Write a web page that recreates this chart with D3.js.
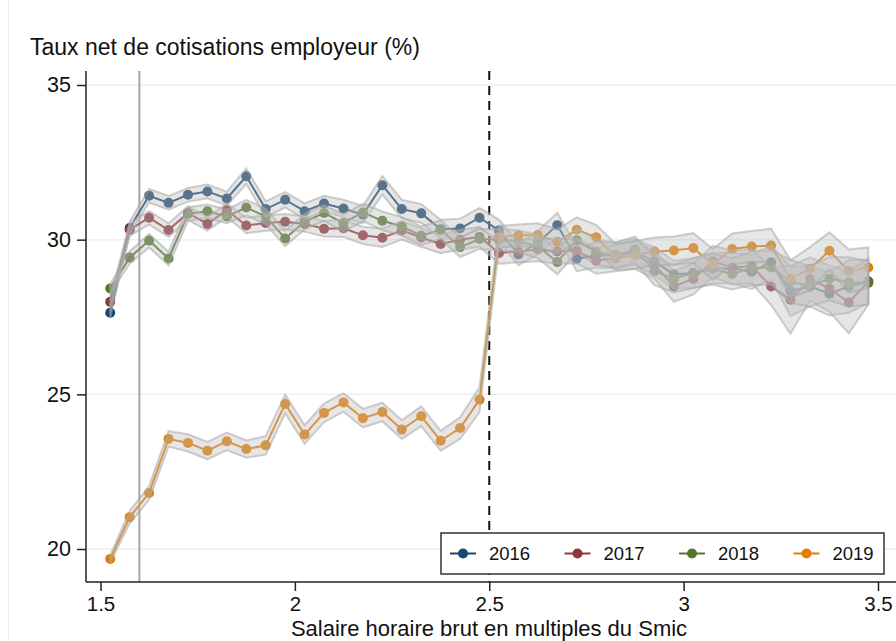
<!DOCTYPE html>
<html><head><meta charset="utf-8">
<script src="https://cdn.jsdelivr.net/npm/d3@7"></script>
<style>
html,body{margin:0;padding:0;background:#fff;}
svg{display:block;font-family:"Liberation Sans",Arial,sans-serif;}
</style></head>
<body>
<svg id="chart" width="896" height="641"></svg>
<script>
const xValues = [1.525,1.575,1.625,1.675,1.725,1.775,1.825,1.875,1.925,1.975,
  2.025,2.075,2.125,2.175,2.225,2.275,2.325,2.375,2.425,2.475,
  2.525,2.575,2.625,2.675,2.725,2.775,2.825,2.875,2.925,2.975,
  3.025,3.075,3.125,3.175,3.225,3.275,3.325,3.375,3.425,3.475];
const years = ["2016","2017","2018","2019"];
const colors = ["#1a476f","#90353b","#55752f","#e37e00"];
const v2016 = [27.64,30.38,31.42,31.19,31.45,31.56,31.33,32.05,30.99,31.29,
  30.92,31.17,31.01,30.81,31.76,30.99,30.85,30.34,30.36,30.71,
  30.30,29.52,29.90,30.47,29.38,29.50,29.50,29.60,29.30,28.87,
  28.92,29.08,29.08,28.96,29.27,28.33,28.49,28.25,28.49,28.65];
const v2017 = [27.99,30.32,30.71,30.31,30.86,30.51,30.95,30.46,30.54,30.58,
  30.51,30.35,30.37,30.14,30.06,30.30,30.07,29.86,30.00,30.09,
  29.57,29.62,29.68,29.62,29.64,29.32,29.40,29.50,29.19,28.49,
  28.73,29.30,29.10,29.14,28.49,28.06,28.73,28.42,27.97,28.65];
const v2018 = [28.42,29.42,29.97,29.39,30.83,30.92,30.75,31.04,30.75,30.04,
  30.58,30.86,30.54,30.88,30.61,30.43,30.13,30.32,29.76,30.02,
  30.00,29.95,29.78,29.28,29.98,29.60,29.50,29.68,28.98,28.74,
  28.92,29.05,28.89,29.08,29.10,28.65,28.49,28.74,28.63,28.60];
const v2019 = [19.68,21.03,21.81,23.56,23.43,23.18,23.48,23.23,23.35,24.69,
  23.70,24.40,24.74,24.23,24.43,23.86,24.29,23.50,23.91,24.83,
  30.09,30.14,30.15,29.93,30.32,30.08,29.44,29.51,29.62,29.65,
  29.73,29.20,29.70,29.78,29.81,28.73,29.06,29.64,28.98,29.10];
const ci2016 = [0.15,0.2,0.22,0.22,0.22,0.22,0.22,0.25,0.25,0.25,
  0.25,0.25,0.28,0.28,0.3,0.3,0.3,0.3,0.32,0.32,
  0.35,0.35,0.38,0.4,0.4,0.4,0.42,0.42,0.45,0.45,
  0.48,0.5,0.5,0.55,0.55,0.8,0.65,0.7,0.85,0.7];
const ci2017 = [0.15,0.2,0.22,0.22,0.22,0.22,0.22,0.25,0.25,0.25,
  0.25,0.25,0.28,0.28,0.3,0.3,0.3,0.3,0.32,0.32,
  0.35,0.35,0.38,0.4,0.4,0.42,0.42,0.45,0.45,0.5,
  0.5,0.5,0.55,0.55,0.6,1.1,0.7,0.75,1.0,0.75];
const ci2018 = [0.15,0.2,0.22,0.22,0.22,0.22,0.22,0.25,0.25,0.25,
  0.25,0.25,0.28,0.28,0.3,0.3,0.3,0.3,0.32,0.32,
  0.35,0.35,0.38,0.4,0.4,0.4,0.42,0.42,0.45,0.45,
  0.48,0.5,0.5,0.55,0.55,0.7,0.65,0.7,0.8,0.7];
const ci2019 = [0.12,0.2,0.22,0.25,0.28,0.28,0.28,0.28,0.3,0.3,
  0.3,0.3,0.3,0.3,0.3,0.3,0.32,0.32,0.35,0.4,
  0.35,0.35,0.38,0.4,0.4,0.4,0.42,0.45,0.45,0.45,
  0.48,0.5,0.5,0.5,0.55,0.6,0.7,0.6,0.7,0.65];
const xTicks = [1.5,2,2.5,3,3.5];
const xTickLabels = ["1.5","2","2.5","3","3.5"];
const yTicks = [20,25,30,35];
const yTickLabels = ["20","25","30","35"];
const refSolid = 1.6, refDashed = 2.5;
const titleText = "Taux net de cotisations employeur (%)";
const xLabelText = "Salaire horaire brut en multiples du Smic";

const seriesVals = [v2016,v2017,v2018,v2019];
const seriesCI = [ci2016,ci2017,ci2018,ci2019];
const series = years.map((yr,k)=>({year:yr,color:colors[k],
  pts:xValues.map((xv,i)=>({x:xv,v:seriesVals[k][i],ci:seriesCI[k][i]}))}));

const svg = d3.select("#chart");
const x = d3.scaleLinear().domain([1.5,3.5]).range([100.5,878]);
const y = d3.scaleLinear().domain([20,35]).range([549,85]);
const plotTop = 71, plotBottom = 582, plotLeft = 86, plotRight = 896;
const FONT = "Liberation Sans, Arial, sans-serif";

// faint outer frame line
svg.append("line").attr("x1",8.5).attr("x2",8.5).attr("y1",0).attr("y2",641)
  .attr("stroke","#eef1f3").attr("stroke-width",1);

// gridlines
svg.append("g").selectAll("line").data(yTicks).join("line")
  .attr("x1",plotLeft).attr("x2",plotRight).attr("y1",d=>y(d)).attr("y2",d=>y(d))
  .attr("stroke","#eaf1f3").attr("stroke-width",1.5);

// reference lines
svg.append("line").attr("x1",x(refSolid)).attr("x2",x(refSolid)).attr("y1",plotTop).attr("y2",plotBottom)
  .attr("stroke","#a6a6a6").attr("stroke-width",2);
svg.append("line").attr("x1",x(refDashed)).attr("x2",x(refDashed)).attr("y1",plotTop).attr("y2",plotBottom)
  .attr("stroke","#111").attr("stroke-width",2).attr("stroke-dasharray","9,6");

// lines + markers
const line = d3.line().x(d=>x(d.x)).y(d=>y(d.v));
series.forEach(s=>{
  const g = svg.append("g");
  g.append("path").datum(s.pts).attr("d",line).attr("fill","none")
    .attr("stroke",s.color).attr("stroke-width",2);
  g.selectAll("circle").data(s.pts).join("circle")
    .attr("cx",d=>x(d.x)).attr("cy",d=>y(d.v)).attr("r",5).attr("fill",s.color);
});
// CI bands over the lines
const area = d3.area().x(d=>x(d.x)).y0(d=>y(d.v-d.ci)).y1(d=>y(d.v+d.ci));
series.forEach(s=>{
  svg.append("path").datum(s.pts).attr("d",area)
    .attr("fill","#bdbdbd").attr("fill-opacity",0.38)
    .attr("stroke","#a8a8a8").attr("stroke-opacity",0.55).attr("stroke-width",2)
    .attr("stroke-linejoin","miter");
});

// axes
const ax = svg.append("g").attr("transform",`translate(0,${plotBottom})`)
  .call(d3.axisBottom(x).tickValues(xTicks).tickFormat((d,i)=>xTickLabels[i]).tickSize(9).tickPadding(5));
ax.select(".domain").remove();
ax.selectAll("line").attr("stroke","#222").attr("stroke-width",1.5);
ax.selectAll("text").attr("font-size",20.5).attr("fill","#111").attr("font-family",FONT);
svg.append("line").attr("x1",plotLeft).attr("x2",plotRight).attr("y1",plotBottom).attr("y2",plotBottom)
  .attr("stroke","#222").attr("stroke-width",1.5);

const ay = svg.append("g").attr("transform",`translate(${plotLeft},0)`)
  .call(d3.axisLeft(y).tickValues(yTicks).tickFormat((d,i)=>yTickLabels[i]).tickSize(9).tickPadding(6));
ay.select(".domain").remove();
ay.selectAll("line").attr("stroke","#222").attr("stroke-width",1.5);
ay.selectAll("text").attr("font-size",21.5).attr("fill","#111").attr("font-family",FONT);
svg.append("line").attr("x1",plotLeft).attr("x2",plotLeft).attr("y1",plotTop).attr("y2",plotBottom)
  .attr("stroke","#222").attr("stroke-width",1.5);

// title & x label
svg.append("text").attr("x",30).attr("y",55).attr("font-size",23).attr("fill","#111").attr("font-family",FONT).text(titleText);
svg.append("text").attr("x",489).attr("y",636).attr("text-anchor","middle").attr("font-size",22).attr("fill","#111").attr("font-family",FONT).text(xLabelText);

// legend
const lg = svg.append("g");
lg.append("rect").attr("x",441).attr("y",533).attr("width",443).attr("height",41)
  .attr("fill","#fff").attr("stroke","#333").attr("stroke-width",1.5);
years.forEach((yr,k)=>{
  const x0 = 450 + k*114.5;
  lg.append("line").attr("x1",x0).attr("x2",x0+26).attr("y1",553.5).attr("y2",553.5)
    .attr("stroke",colors[k]).attr("stroke-width",2);
  lg.append("circle").attr("cx",x0+13).attr("cy",553.5).attr("r",5).attr("fill",colors[k]);
  lg.append("text").attr("x",x0+39).attr("y",560).attr("font-size",18.5).attr("fill","#111").attr("font-family",FONT).text(yr);
});
</script>
</body></html>
